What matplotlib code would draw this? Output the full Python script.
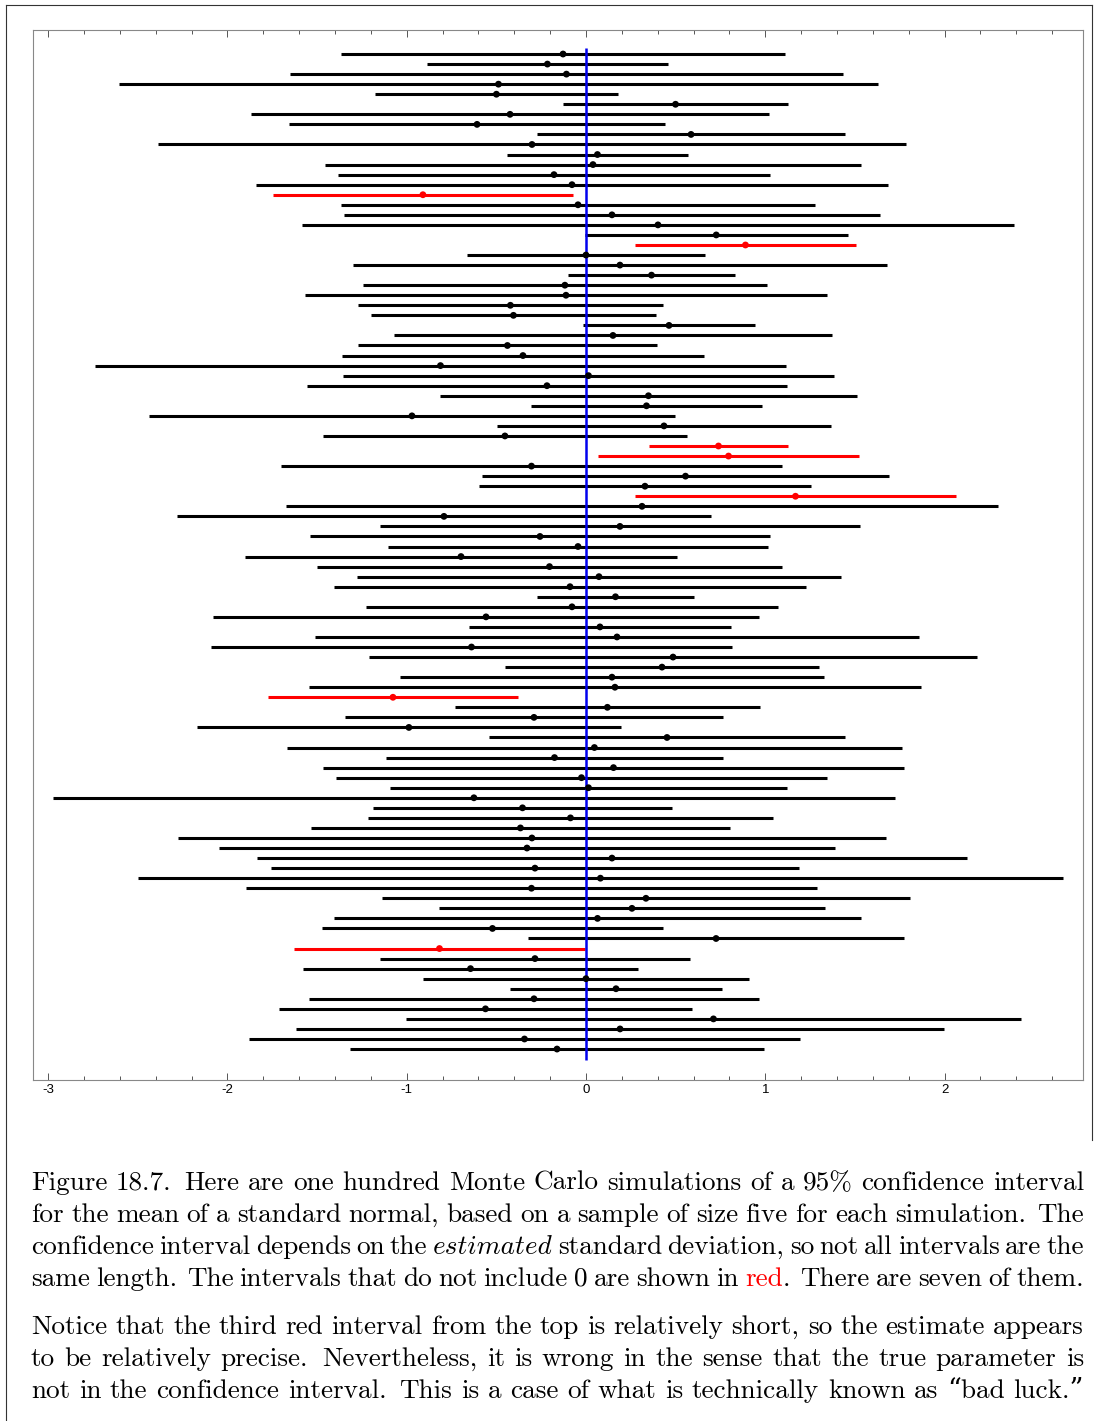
import matplotlib.pyplot as plt
from matplotlib.ticker import MultipleLocator
from matplotlib.lines import Line2D
import numpy as np

plt.rcParams['axes.unicode_minus'] = False
plt.rcParams['font.family'] = ['Liberation Sans', 'DejaVu Sans']

# 95% confidence intervals from 100 simulations, listed from top to bottom
lower = [-1.366, -0.887, -1.651, -2.605, -1.177, -0.128, -1.868, -1.656, -0.273, -2.387,
         -0.441, -1.456, -1.383, -1.840, -1.746, -1.366, -1.350, -1.584, -0.008, 0.273,
         -0.664, -1.300, -0.100, -1.244, -1.567, -1.272, -1.199, -0.017, -1.071, -1.272,
         -1.361, -2.738, -1.355, -1.556, -0.814, -0.307, -2.437, -0.496, -1.467, 0.351,
         0.067, -1.701, -0.580, -0.597, 0.273, -1.673, -2.281, -1.149, -1.539, -1.104,
         -1.902, -1.500, -1.277, -1.405, -0.273, -1.227, -2.080, -0.653, -1.511, -2.091,
         -1.210, -0.452, -1.037, -1.545, -1.774, -0.731, -1.344, -2.170, -0.541, -1.668,
         -1.115, -1.467, -1.394, -1.093, -2.973, -1.188, -1.216, -1.534, -2.276, -2.047,
         -1.835, -1.757, -2.499, -1.896, -1.138, -0.820, -1.405, -1.472, -0.323, -1.629,
         -1.149, -1.578, -0.909, -0.424, -1.545, -1.712, -1.004, -1.617, -1.880, -1.316]
upper = [1.110, 0.457, 1.433, 1.629, 0.178, 1.127, 1.021, 0.441, 1.445, 1.785,
         0.569, 1.534, 1.026, 1.684, -0.073, 1.277, 1.640, 2.387, 1.461, 1.506,
         0.664, 1.679, 0.831, 1.009, 1.344, 0.429, 0.390, 0.943, 1.372, 0.396,
         0.658, 1.115, 1.383, 1.121, 1.511, 0.982, 0.496, 1.366, 0.563, 1.127,
         1.523, 1.093, 1.690, 1.255, 2.064, 2.298, 0.697, 1.528, 1.026, 1.015,
         0.508, 1.093, 1.422, 1.227, 0.602, 1.071, 0.965, 0.809, 1.857, 0.814,
         2.181, 1.300, 1.327, 1.868, -0.379, 0.970, 0.764, 0.195, 1.445, 1.762,
         0.764, 1.774, 1.344, 1.121, 1.723, 0.480, 1.043, 0.803, 1.673, 1.389,
         2.125, 1.188, 2.660, 1.288, 1.807, 1.333, 1.534, 0.429, 1.774, -0.005,
         0.580, 0.290, 0.909, 0.759, 0.965, 0.591, 2.426, 1.997, 1.194, 0.993]
true_mean = 0.0

lo = np.array(lower)
hi = np.array(upper)
means = (lo + hi) / 2
rows = np.arange(1, len(lo) + 1)
misses = (lo > true_mean) | (hi < true_mean)
colors = np.where(misses, '#ff0000', '#000000')

W, H = 1096, 1421
fig = plt.figure(figsize=(W / 100, H / 100), dpi=100)
ax = fig.add_axes([33 / W, 1 - 1080 / H, 1050 / W, 1050 / H])

ax.hlines(rows, lo, hi, colors=colors, linewidth=2.2, zorder=2)
ax.vlines(true_mean, 0.4, 101.1, colors='#0000ee', linewidth=1.8, zorder=3)
ax.scatter(means, rows, s=24, c=colors, marker='o', linewidths=0, zorder=4)

ax.set_xlim(-3.084, 2.772)
ax.set_ylim(103.08, -1.39)
ax.set_yticks([])
ax.xaxis.set_major_locator(MultipleLocator(1))
ax.xaxis.set_minor_locator(MultipleLocator(0.2))
ax.tick_params(axis='x', which='both', direction='in', top=True, color='#555555',
               width=0.7, labelsize=9.5, pad=3)
ax.tick_params(axis='x', which='major', length=5)
ax.tick_params(axis='x', which='minor', length=3)
for sp in ax.spines.values():
    sp.set_color('#888888')
    sp.set_linewidth(0.8)

# page border around the figure
fig.add_artist(Line2D([6 / W, 6 / W], [0, 1 - 5 / H], color='#333333', linewidth=0.8))
fig.add_artist(Line2D([6 / W, 1092 / W], [1 - 5 / H, 1 - 5 / H], color='#333333', linewidth=0.8))
fig.add_artist(Line2D([1092 / W, 1092 / W], [1 - 5 / H, 1 - 1140 / H], color='#333333', linewidth=0.8))

# caption, set as justified lines word by word
roman = ['cmr10', 'DejaVu Serif']
italic = ['cmmi10', 'DejaVu Serif']
caption = [
    (1190, "Figure 18.7.  Here are one hundred Monte Carlo simulations of a 95% confidence interval"),
    (1222, "for the mean of a standard normal, based on a sample of size five for each simulation.  The"),
    (1254, "confidence interval depends on the *estimated standard deviation, so not all intervals are the"),
    (1286, "same length.  The intervals that do not include 0 are shown in #red. There are seven of them."),
    (1334, "Notice that the third red interval from the top is relatively short, so the estimate appears"),
    (1366, "to be relatively precise.  Nevertheless, it is wrong in the sense that the true parameter is"),
    (1398, "not in the confidence interval. This is a case of what is technically known as \u201cbad luck.\u201d"),
]
renderer = fig.canvas.get_renderer()
fsize = 19.6
x_left, x_right = 31, 1084

for y_px, line in caption:
    words = line.split()
    pieces = []
    widths = []
    for w in words:
        segs = []
        if w.startswith('*'):
            segs.append((w[1:], italic, 'black'))
        elif w.startswith('#'):
            segs.append((w[1:4], roman, '#ff0000'))
            segs.append((w[4:], roman, 'black'))
        else:
            segs.append((w, roman, 'black'))
        objs = []
        total = 0
        for s, fam, col in segs:
            t = fig.text(0, 1 - y_px / H, s, family=fam, fontsize=fsize, color=col,
                         va='baseline', ha='left')
            bw = t.get_window_extent(renderer).width
            objs.append((t, bw))
            total += bw
        pieces.append((w, objs))
        widths.append(total)
    weights = [1.5 if w.endswith('.') else 1.0 for w in words[:-1]]
    gap = (x_right - x_left - sum(widths)) / sum(weights)
    x = x_left
    for i, (w, objs) in enumerate(pieces):
        xx = x
        for t, bw in objs:
            t.set_x(xx / W)
            xx += bw
        x += widths[i]
        if i < len(weights):
            x += gap * weights[i]

fig.savefig('out.png', dpi=100)
